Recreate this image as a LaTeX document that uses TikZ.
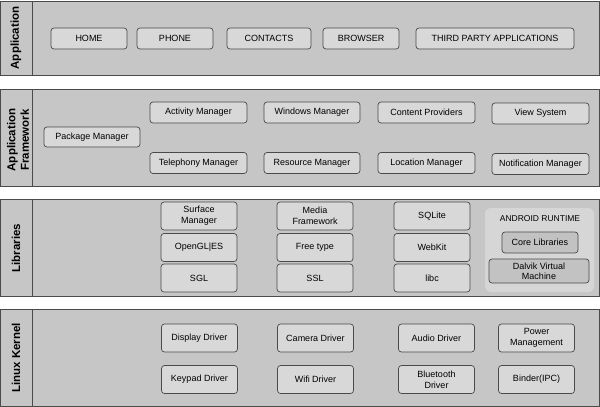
\documentclass[tikz,border=0pt]{standalone}
\usepackage{fontspec}
\setmainfont{Liberation Sans}
\definecolor{band}{HTML}{C6C6C6}
\definecolor{boxfill}{HTML}{D8D8D8}
\definecolor{edge}{HTML}{4A4A4A}
\definecolor{runtime}{HTML}{D6D6D6}
\definecolor{darkbox}{HTML}{C2C2C2}

\begin{document}
\begin{tikzpicture}[x=1pt,y=-1pt,font=\fontsize{9}{11}\selectfont,
        layer/.style={draw=edge,fill=band,line width=0.9pt},
        part/.style={draw=edge,fill=boxfill,rounded corners=3pt,line width=0.7pt,align=center,inner sep=0pt,minimum height=21pt},
        lib/.style={part,minimum width=76pt,minimum height=28pt},
        title/.style={rotate=90,align=center,font=\fontsize{11.5}{13.5}\selectfont\bfseries}]
        \useasboundingbox[fill=white] (0,0) rectangle (600,407);
        \path[layer] (0.5,1) rectangle (599.5,75);
        \path[layer] (0.5,89) rectangle (599.5,186);
        \path[layer] (0.5,199) rectangle (599.5,296);
        \path[layer] (0.5,309) rectangle (599.5,406);
        \foreach \top/\bot in {1/75,89/186,199/296,309/406}
            \draw[edge,line width=0.9pt] (32,\top) -- (32,\bot);
        \node[title] (t1) at (16,38) {Application};
        \node[title] (t2) at (18,140) {Application\\Framework};
        \node[title] (t3) at (16,248) {Libraries};
        \node[title] (t4) at (16,358) {Linux Kernel};
        % applications
        \node[part,minimum width=76pt] (home) at (89,38.5) {HOME};
        \node[part,minimum width=76pt] (phone) at (175,38.5) {PHONE};
        \node[part,minimum width=84pt] (contacts) at (269,38.5) {CONTACTS};
        \node[part,minimum width=76pt] (browser) at (361,38.5) {BROWSER};
        \node[part,minimum width=158pt] (third) at (495,38.5) {THIRD PARTY APPLICATIONS};
        % framework
        \node[part,minimum width=96pt,minimum height=20pt] (pkg) at (92,137) {Package Manager};
        \node[part,minimum width=97pt] (act) at (198.5,112.5) {Activity Manager};
        \node[part,minimum width=97pt] (tel) at (198.5,163) {Telephony Manager};
        \node[part,minimum width=96pt] (win) at (312,112.5) {Windows Manager};
        \node[part,minimum width=96pt] (res) at (312,163) {Resource Manager};
        \node[part,minimum width=97pt] (cont) at (426.5,112.5) {Content Providers};
        \node[part,minimum width=97pt] (loc) at (426.5,163) {Location Manager};
        \node[part,minimum width=97pt] (view) at (540.5,113.5) {View System};
        \node[part,minimum width=97pt] (notif) at (540.5,164) {Notification Manager};
        % libraries
        \node[lib] (surf) at (199,216) {Surface\\Manager};
        \node[lib] (gles) at (199,247.5) {OpenGL|ES};
        \node[lib] (sgl) at (199,278) {SGL};
        \node[lib] (media) at (315,216) {Media\\Framework};
        \node[lib] (ftype) at (315,247.5) {Free type};
        \node[lib] (ssl) at (315,278) {SSL};
        \node[lib] (sqlite) at (432,216) {SQLite};
        \node[lib] (webkit) at (432,247.5) {WebKit};
        \node[lib] (libc) at (432,278) {libc};
        \node[fill=runtime,rounded corners=6pt,minimum width=109pt,minimum height=84pt] (rt) at (539.5,250) {};
        \node[font=\fontsize{8.5}{10}\selectfont] (rtl) at (540,219) {ANDROID RUNTIME};
        \node[part,fill=darkbox,minimum width=76pt] (core) at (540,242.5) {Core Libraries};
        \node[part,fill=darkbox,minimum width=100pt,minimum height=24pt,font=\fontsize{9}{10}\selectfont] (dalvik) at (539,271) {Dalvik Virtual\\Machine};
        % kernel
        \node[lib] (disp) at (199.5,338) {Display Driver};
        \node[lib] (key) at (199.5,379.5) {Keypad Driver};
        \node[lib] (cam) at (315.5,338) {Camera Driver};
        \node[lib] (wifi) at (315.5,379.5) {Wifi Driver};
        \node[lib] (audio) at (436.5,338) {Audio Driver};
        \node[lib] (bt) at (436.5,379.5) {Bluetooth\\Driver};
        \node[lib] (power) at (536.5,338) {Power\\Management};
        \node[lib] (binder) at (536.5,379.5) {Binder(IPC)};
    \end{tikzpicture}
\end{document}
